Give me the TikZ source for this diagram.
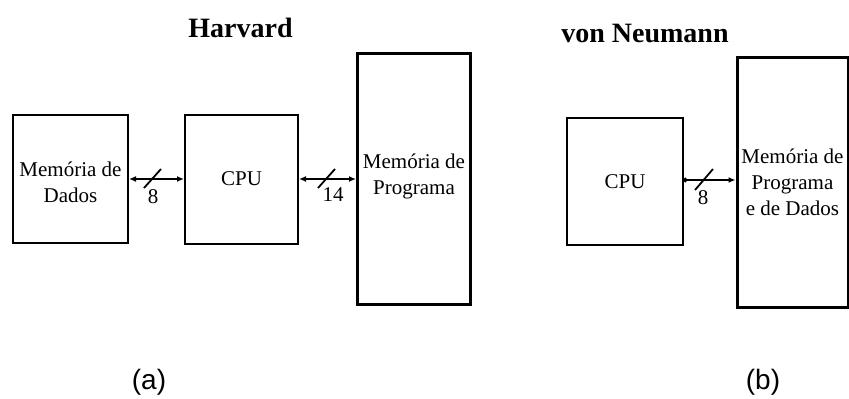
\documentclass[tikz,border=0pt]{standalone}
\usepackage{fontspec}
\setmainfont{Liberation Serif}
\newfontfamily\capfont{Liberation Sans}
\usetikzlibrary{arrows.meta}

\tikzset{
  unitbox/.style={draw=black, line width=2pt, fill=white, inner sep=0pt, align=center,
    font=\fontsize{21}{26}\selectfont},
  membox/.style={unitbox, line width=3pt},
  bus/.style={line width=1.6pt},
  tipR/.tip={Latex[length=7pt,width=6pt]},
  buswidth/.style={line width=1.8pt},
  busnum/.style={font=\fontsize{21}{26}\selectfont, inner sep=0pt},
  archtitle/.style={font=\fontsize{28}{32}\selectfont\bfseries, anchor=base, inner sep=0pt},
  subcap/.style={font=\capfont\fontsize{28}{32}\selectfont, inner sep=0pt}
}

\begin{document}
\begin{tikzpicture}[x=1pt, y=-1pt]
  \useasboundingbox (0,0) rectangle (849,399);
  \clip (0,0) rectangle (849,399);

  % ---- Harvard architecture ----
  \node[archtitle] (th) at (240.5,37) {Harvard};
  \node[unitbox, minimum width=115pt, minimum height=128pt] (md) at (70.5,179) {};
  \node[busnum, align=center] (mdt) at (70.5,182) {Memória de\\Dados};
  \node[unitbox, minimum width=113pt, minimum height=129pt] (cpu1) at (241.5,179) {CPU};
  \node[membox, minimum width=113pt, minimum height=251pt] (mp) at (414,178.5) {};
  \node[busnum, align=center] (mpt) at (414,176) {Memória de\\Programa};

  \draw[bus, tipR-tipR] (md.east) -- (cpu1.west);
  \coordinate (s1a) at (144,188);
  \coordinate (s1b) at (161,169);
  \draw[buswidth] (s1a) -- (s1b);
  \node[busnum] (n1) at (153,197) {8};

  \draw[bus, tipR-tipR] (cpu1.east) -- (cpu1.east -| mp.west);
  \coordinate (s2a) at (318,188);
  \coordinate (s2b) at (335,169);
  \draw[buswidth] (s2a) -- (s2b);
  \node[busnum] (n2) at (333,195) {14};

  \node[subcap] (ca) at (149,382) {(a)};

  % ---- von Neumann architecture ----
  \node[archtitle] (tv) at (645,42) {von Neumann};
  \node[unitbox, minimum width=116pt, minimum height=127pt] (cpu2) at (625,181.5) {CPU};
  \node[membox, minimum width=111pt, minimum height=250pt] (mpd) at (792.5,182) {Memória de\\Programa\\e de Dados};

  \coordinate (busL) at (683,180);
  \draw[bus, {Circle[length=4.5pt]}-tipR] (busL) -- (busL -| mpd.west);
  \coordinate (s3a) at (695,190);
  \coordinate (s3b) at (713,169);
  \draw[buswidth] (s3a) -- (s3b);
  \node[busnum] (n3) at (703,198) {8};

  \node[subcap] (cb) at (763,382) {(b)};
\end{tikzpicture}
\end{document}
